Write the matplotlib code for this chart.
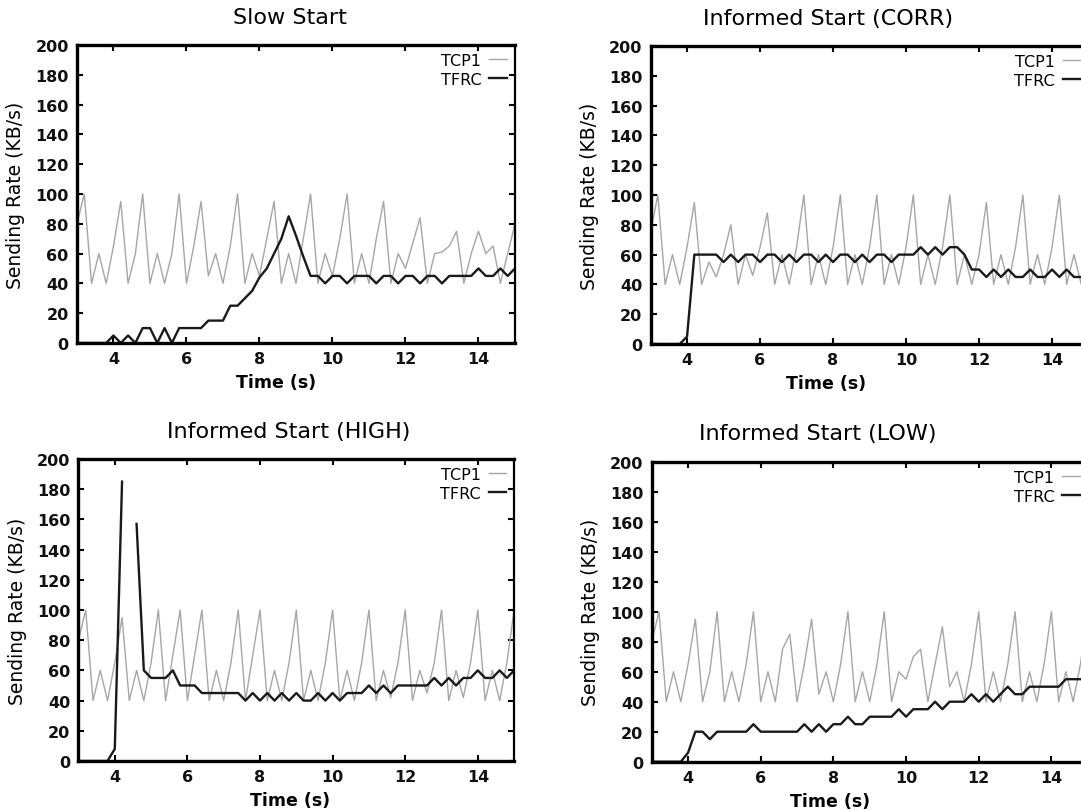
import numpy as np
import matplotlib
matplotlib.use('Agg')
import matplotlib.pyplot as plt

plt.rcParams['font.family'] = ['DejaVu Sans']

# tiempo de muestreo (s)
tiempo = [3.0, 3.2, 3.4, 3.6, 3.8, 4.0, 4.2, 4.4, 4.6, 4.8,
          5.0, 5.2, 5.4, 5.6, 5.8, 6.0, 6.2, 6.4, 6.6, 6.8,
          7.0, 7.2, 7.4, 7.6, 7.8, 8.0, 8.2, 8.4, 8.6, 8.8,
          9.0, 9.2, 9.4, 9.6, 9.8, 10.0, 10.2, 10.4, 10.6, 10.8,
          11.0, 11.2, 11.4, 11.6, 11.8, 12.0, 12.2, 12.4, 12.6, 12.8,
          13.0, 13.2, 13.4, 13.6, 13.8, 14.0, 14.2, 14.4, 14.6, 14.8,
          15.0]

# Slow Start
tcp_slow = [80, 100, 40, 60, 40, 65, 95, 40, 60, 100,
            40, 60, 40, 60, 100, 40, 65, 95, 45, 60,
            40, 65, 100, 40, 60, 45, 70, 95, 40, 60,
            40, 70, 100, 40, 60, 45, 70, 100, 40, 60,
            40, 70, 95, 40, 60, 50, 67, 84, 40, 60,
            61, 65, 75, 40, 60, 75, 60, 65, 40, 60,
            80]
tfrc_slow = [0, 0, 0, 0, 0, 5, 0, 5, 0, 10,
             10, 0, 10, 0, 10, 10, 10, 10, 15, 15,
             15, 25, 25, 30, 35, 44, 50, 60, 70, 85,
             72, 58, 45, 45, 40, 45, 45, 40, 45, 45,
             45, 40, 45, 45, 40, 45, 45, 40, 45, 45,
             40, 45, 45, 45, 45, 50, 45, 45, 50, 45,
             50]

# Informed Start (CORR)
tcp_corr = [75, 100, 40, 60, 40, 65, 95, 40, 55, 45,
            60, 80, 40, 60, 46, 65, 88, 40, 60, 40,
            65, 100, 40, 60, 40, 65, 100, 40, 60, 40,
            65, 100, 40, 60, 40, 65, 100, 40, 60, 40,
            65, 100, 40, 60, 40, 60, 95, 40, 60, 40,
            65, 100, 40, 60, 40, 65, 100, 40, 60, 40,
            65]
tfrc_corr = [0, 0, 0, 0, 0, 5, 60, 60, 60, 60,
             55, 60, 55, 60, 60, 55, 60, 60, 55, 60,
             55, 60, 60, 55, 60, 55, 60, 60, 55, 60,
             55, 60, 60, 55, 60, 60, 60, 65, 60, 65,
             60, 65, 65, 60, 50, 50, 45, 50, 45, 50,
             45, 45, 50, 45, 45, 50, 45, 50, 45, 45,
             45]

# Informed Start (HIGH)
tcp_high = [80, 100, 40, 60, 40, 65, 95, 40, 60, 40,
            65, 100, 40, 70, 100, 40, 70, 100, 40, 60,
            40, 65, 100, 40, 70, 100, 40, 60, 40, 65,
            100, 40, 60, 40, 65, 100, 40, 60, 40, 65,
            100, 40, 60, 42, 65, 100, 40, 60, 45, 65,
            100, 40, 60, 42, 65, 100, 40, 60, 40, 65,
            100]
tfrc_high = [0, 0, 0, 0, 0, 8, 185, np.nan, 157, 60,
             55, 55, 55, 60, 50, 50, 50, 45, 45, 45,
             45, 45, 45, 40, 45, 40, 45, 40, 45, 40,
             45, 40, 40, 45, 40, 45, 40, 45, 45, 45,
             50, 45, 50, 45, 50, 50, 50, 50, 50, 55,
             50, 55, 50, 55, 55, 60, 55, 55, 60, 55,
             60]

# Informed Start (LOW)
tcp_low = [80, 100, 40, 60, 40, 65, 95, 40, 60, 100,
           40, 60, 40, 65, 100, 40, 60, 40, 75, 85,
           40, 65, 95, 45, 60, 40, 65, 100, 40, 60,
           40, 65, 100, 40, 60, 55, 70, 75, 40, 65,
           90, 50, 60, 40, 65, 100, 40, 60, 40, 65,
           100, 40, 60, 40, 65, 100, 40, 60, 40, 65,
           100]
tfrc_low = [0, 0, 0, 0, 0, 6, 20, 20, 15, 20,
            20, 20, 20, 20, 25, 20, 20, 20, 20, 20,
            20, 25, 20, 25, 20, 25, 25, 30, 25, 25,
            30, 30, 30, 30, 35, 30, 35, 35, 35, 40,
            35, 40, 40, 40, 45, 40, 45, 40, 45, 50,
            45, 45, 50, 50, 50, 50, 50, 55, 55, 55,
            55]

fig = plt.figure(figsize=(10.81, 8.12), dpi=100)

# posiciones de los paneles (la columna derecha queda cortada por el borde)
ax_tl = fig.add_axes([0.0712, 0.5764, 0.4052, 0.367])
ax_tr = fig.add_axes([0.6018, 0.5751, 0.4052, 0.367])
ax_bl = fig.add_axes([0.0726, 0.0616, 0.4030, 0.3719])
ax_br = fig.add_axes([0.6029, 0.0607, 0.4033, 0.3695])


def dibujar(ax, tcp, tfrc, titulo, x_titulo, x_etiqueta):
    ax.plot(tiempo, tcp, color='#a6a6a6', linewidth=1.0, label='TCP1')
    ax.plot(tiempo, tfrc, color='#1a1a1a', linewidth=1.7, label='TFRC')
    ax.set_xlim(3, 15)
    ax.set_ylim(0, 200)
    ax.set_xticks([4, 6, 8, 10, 12, 14])
    ax.set_yticks(list(range(0, 201, 20)))
    ax.tick_params(direction='in', length=4, width=1.5, top=True, right=True,
                   labelsize=11.5, pad=6)
    for lab in ax.get_xticklabels() + ax.get_yticklabels():
        lab.set_fontweight('bold')
        lab.set_color('#111111')
    for lado in ['left', 'bottom', 'top']:
        ax.spines[lado].set_linewidth(2.4)
    ax.spines['right'].set_linewidth(1.6)

    ax.set_title(titulo, fontsize=16, x=x_titulo, pad=16)
    ax.set_xlabel('Time (s)', fontsize=12.5, fontweight='bold')
    ax.xaxis.set_label_coords(x_etiqueta, -0.10)
    ax.set_ylabel('Sending Rate (KB/s)', fontsize=13.5)
    ax.yaxis.set_label_coords(-0.118, 0.5)

    ax.legend(loc='upper right', frameon=False, markerfirst=False,
              prop={'size': 11.5}, handlelength=1.1,
              handletextpad=0.5, labelspacing=0.25, borderpad=0.1,
              borderaxespad=0.4)


dibujar(ax_tl, tcp_slow, tfrc_slow, 'Slow Start', 0.486, 0.454)
dibujar(ax_tr, tcp_corr, tfrc_corr, 'Informed Start (CORR)', 0.405, 0.40)
dibujar(ax_bl, tcp_high, tfrc_high, 'Informed Start (HIGH)', 0.483, 0.485)
dibujar(ax_br, tcp_low, tfrc_low, 'Informed Start (LOW)', 0.38, 0.41)

plt.savefig('out.png', dpi=100)
